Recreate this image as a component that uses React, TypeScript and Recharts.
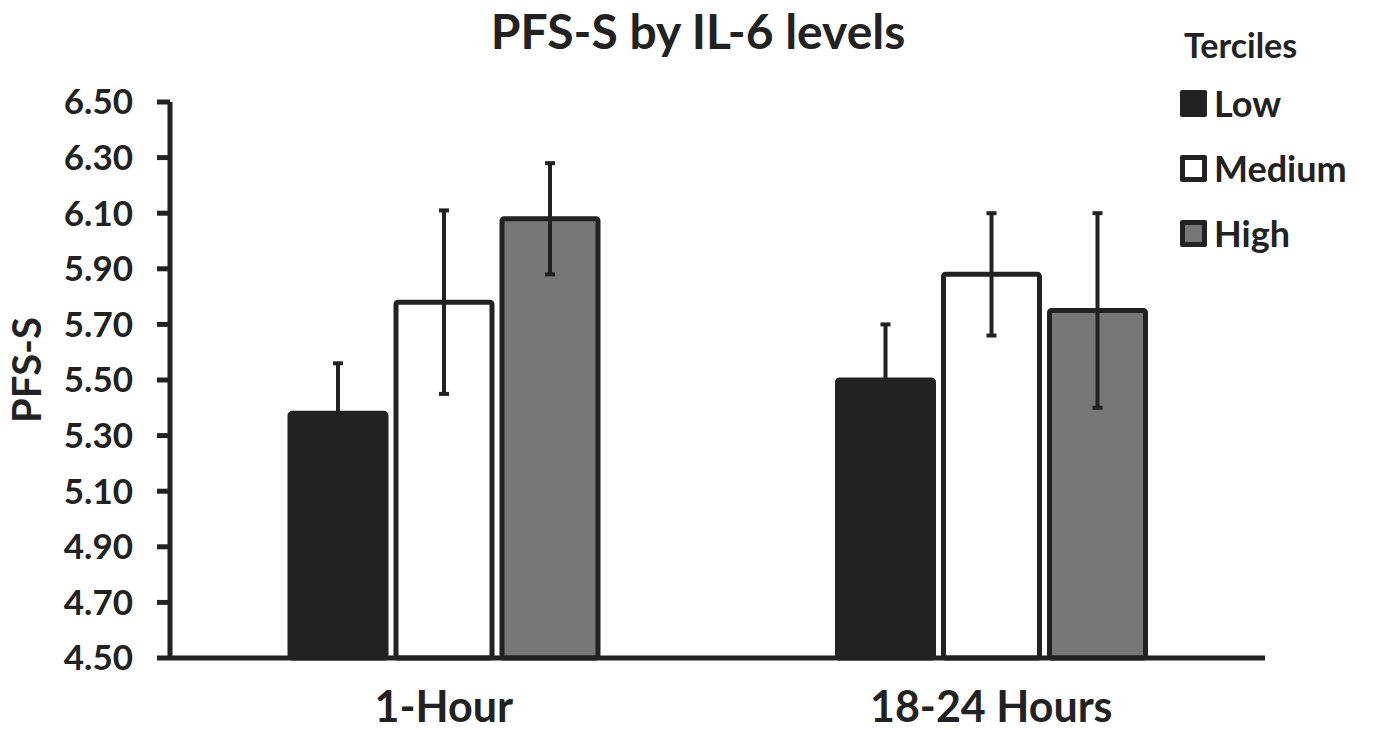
import { BarChart, Bar, XAxis, YAxis, ErrorBar } from 'recharts';

const timepoints = ['1-Hour', '18-24 Hours'];
const lowMeans = [5.38, 5.5];
const lowErrors = [0.18, 0.2];
const mediumMeans = [5.78, 5.88];
const mediumErrors = [0.33, 0.22];
const highMeans = [6.08, 5.75];
const highErrors = [0.2, 0.35];
const yTicks = [4.5, 4.7, 4.9, 5.1, 5.3, 5.5, 5.7, 5.9, 6.1, 6.3, 6.5];

const INK = '#222222';

const series = [
  { key: 'low', name: 'Low', fill: INK },
  { key: 'medium', name: 'Medium', fill: '#ffffff' },
  { key: 'high', name: 'High', fill: '#777777' },
];

const data = timepoints.map((t, i) => ({
  time: t,
  low: lowMeans[i],
  lowErr: lowErrors[i],
  medium: mediumMeans[i],
  mediumErr: mediumErrors[i],
  high: highMeans[i],
  highErr: highErrors[i],
}));

const YLabel = ({ viewBox }: any) => {
  const cy = viewBox.y + viewBox.height / 2 - 10;
  return (
    <text
      x={41}
      y={cy}
      transform={`rotate(-90, 41, ${cy})`}
      textAnchor="middle"
      fill={INK}
      fontSize={40}
      fontWeight={700}
    >
      PFS-S
    </text>
  );
};

export default function App() {
  return (
    <div
      style={{
        position: 'relative',
        width: 1376,
        height: 730,
        fontFamily: 'Lato, sans-serif',
        color: INK,
        background: '#fff',
      }}
    >
      <style>{'body{margin:0}'}</style>
      <div
        style={{
          position: 'absolute',
          left: 398,
          width: 600,
          top: 7,
          textAlign: 'center',
          fontSize: 48,
          lineHeight: '48px',
          fontWeight: 700,
        }}
      >
        PFS-S by IL-6 levels
      </div>

      <div style={{ position: 'absolute', left: 1180, top: 25, fontWeight: 700 }}>
        <div style={{ fontSize: 34, lineHeight: '40px', marginLeft: 4 }}>Terciles</div>
        {series.map((s, i) => (
          <div
            key={s.key}
            style={{
              display: 'flex',
              alignItems: 'center',
              position: 'absolute',
              top: 58 + i * 65,
              left: 0,
              whiteSpace: 'nowrap',
            }}
          >
            <span
              style={{
                display: 'inline-block',
                width: 17,
                height: 17,
                border: `5px solid ${INK}`,
                borderRadius: 2,
                background: s.fill,
                marginRight: 7,
              }}
            />
            <span style={{ fontSize: 36, lineHeight: '40px' }}>{s.name}</span>
          </div>
        ))}
      </div>

      <BarChart
        width={1376}
        height={730}
        data={data}
        margin={{ top: 102, right: 111, bottom: 0, left: 0 }}
        barSize={96}
        barGap={10}
      >
        <XAxis
          dataKey="time"
          height={72}
          tickLine={false}
          tickSize={0}
          tickMargin={33}
          axisLine={{ stroke: INK, strokeWidth: 5 }}
          tick={{ fill: INK, fontSize: 43, fontWeight: 700 }}
        />
        <YAxis
          width={170}
          domain={[4.5, 6.5]}
          ticks={yTicks}
          interval={0}
          tickFormatter={(v: number) => v.toFixed(2)}
          tickSize={13}
          tickMargin={24}
          axisLine={{ stroke: INK, strokeWidth: 5 }}
          tickLine={{ stroke: INK, strokeWidth: 5 }}
          tick={{ fill: INK, fontSize: 35, fontWeight: 700 }}
          label={<YLabel />}
        />
        {series.map((s) => (
          <Bar
            key={s.key}
            dataKey={s.key}
            name={s.name}
            fill={s.fill}
            stroke={INK}
            strokeWidth={5}
            radius={2}
            isAnimationActive={false}
          >
            <ErrorBar
              dataKey={`${s.key}Err`}
              width={5}
              stroke={INK}
              strokeWidth={4}
            />
          </Bar>
        ))}
      </BarChart>
    </div>
  );
}
